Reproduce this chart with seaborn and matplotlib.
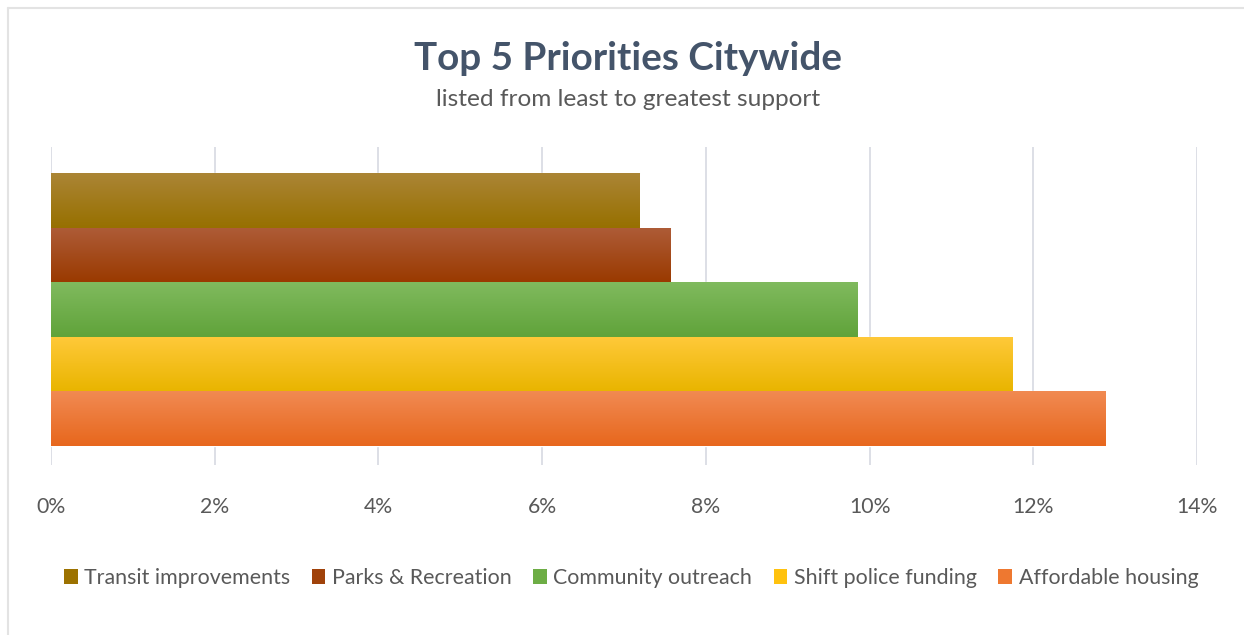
import numpy as np
import pandas as pd
import matplotlib
matplotlib.use("Agg")
import matplotlib.pyplot as plt
import seaborn as sns
from matplotlib.colors import LinearSegmentedColormap
from matplotlib.patches import Patch
from matplotlib.lines import Line2D

# ---- data ----
categories = ["Transit improvements", "Parks & Recreation", "Community outreach",
              "Shift police funding", "Affordable housing"]
support = [7.19, 7.57, 9.85, 11.74, 12.88]  # percent
xticks = [0, 2, 4, 6, 8, 10, 12, 14]
xtick_labels = ["0%", "2%", "4%", "6%", "8%", "10%", "12%", "14%"]

# ---- style ----
base_colors = ["#9C7200", "#A0420A", "#6DAD45", "#FFC20E", "#EE7830"]
grad = {
    "Transit improvements": ("#AB8535", "#977000"),
    "Parks & Recreation": ("#AE5C38", "#9A3A00"),
    "Community outreach": ("#80BA5E", "#60A33A"),
    "Shift police funding": ("#FFC93A", "#E9B500"),
    "Affordable housing": ("#F18A52", "#E7671D"),
}

sns.set_theme(style="white")
plt.rcParams["font.family"] = ["Lato", "DejaVu Sans"]

df = pd.DataFrame({"category": categories, "support": support})

fig = plt.figure(figsize=(12.44, 6.35), dpi=100)
ax = fig.add_axes([51 / 1244, 1 - 465 / 635, (1197 - 51) / 1244, (465 - 147) / 635])

sns.barplot(data=df, x="support", y="category", hue="category",
            palette=dict(zip(categories, base_colors)), width=1.0,
            legend=False, ax=ax, saturation=1.0, zorder=3)

# gradient fill for each bar
for patch, cat in zip(ax.patches, categories):
    x0, y0 = patch.get_x(), patch.get_y()
    w, h = patch.get_width(), patch.get_height()
    cmap = LinearSegmentedColormap.from_list("g", [grad[cat][0], grad[cat][1]])
    g = np.linspace(0, 1, 100).reshape(-1, 1)
    im = ax.imshow(g, cmap=cmap, aspect="auto", extent=(x0, x0 + w, y0 + h, y0),
                   origin="upper", zorder=4)
    im.set_clip_path(patch)

ax.set_xlim(0, 14)
ax.set_ylim(4.848, -0.976)
ax.set_xticks(xticks)
ax.set_xticklabels(xtick_labels)
ax.set_yticks([])
ax.set_xlabel("")
ax.set_ylabel("")
ax.grid(axis="x", color="#DADCE4", linewidth=1.3, zorder=0)
ax.grid(axis="y", visible=False)
for s in ax.spines.values():
    s.set_visible(False)
ax.tick_params(axis="x", length=0, pad=23, labelsize=15.3, labelcolor="#595959")

# titles
fig.text(628 / 1244, 1 - 58 / 635, "Top 5 Priorities Citywide", ha="center", va="center",
         fontsize=27.8, fontweight="bold", color="#44546A")
fig.text(628 / 1244, 1 - 99 / 635, "listed from least to greatest support", ha="center",
         va="center", fontsize=17.6, color="#595959")

# legend
handles = [Patch(facecolor=c, edgecolor="none") for c in base_colors]
leg = fig.legend(handles, categories, loc="center", bbox_to_anchor=(631 / 1244, 1 - 578 / 635),
                 ncol=5, frameon=False, fontsize=15.4, handlelength=0.65, handleheight=0.65,
                 handletextpad=0.3, columnspacing=1.0)
for t in leg.get_texts():
    t.set_color("#595959")

# outer border (left & top)
fig.add_artist(Line2D([8 / 1244, 8 / 1244], [0, 1 - 8 / 635], transform=fig.transFigure,
                      color="#E3E3E3", linewidth=1.5))
fig.add_artist(Line2D([8 / 1244, 1], [1 - 8 / 635, 1 - 8 / 635], transform=fig.transFigure,
                      color="#E3E3E3", linewidth=1.5))

fig.savefig("out.png", dpi=100, facecolor="white")
